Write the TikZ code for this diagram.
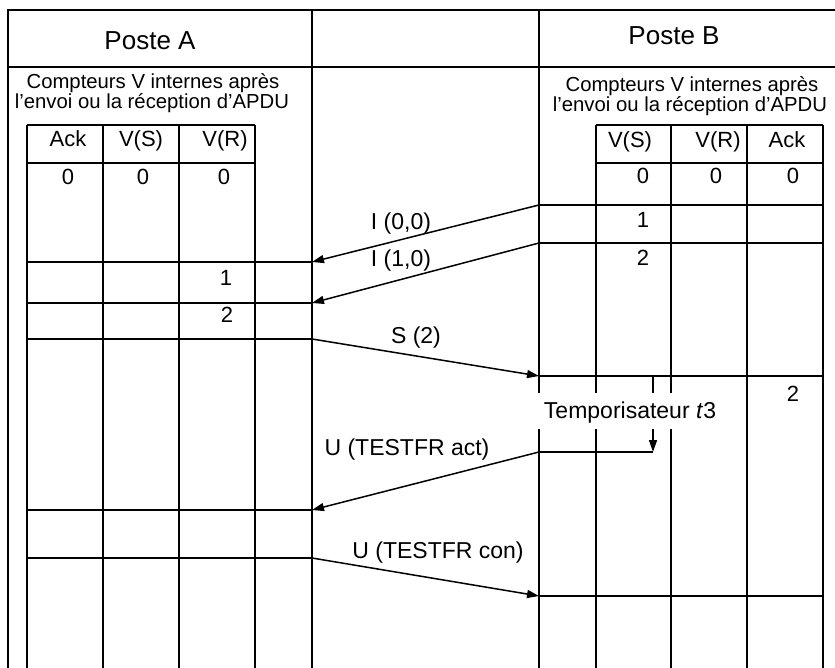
\documentclass[tikz,border=0pt]{standalone}
\usepackage{fontspec}
\setmainfont{Liberation Sans}
\usetikzlibrary{arrows.meta}
\begin{document}
\begin{tikzpicture}[x=1pt,y=-1pt,line width=1.5pt,
  poste/.style={inner sep=0pt,anchor=base,font=\fontsize{26}{28}\selectfont},
  note/.style={inner sep=0pt,anchor=base,font=\fontsize{20.3}{20}\selectfont},
  cell/.style={inner sep=0pt,anchor=base,font=\fontsize{22}{24}\selectfont},
  msg/.style={inner sep=0pt,anchor=base,font=\fontsize{23}{25}\selectfont},
  arr/.style={-{Triangle[length=12pt,width=8pt]}}]
\useasboundingbox (0,0) rectangle (835,668);
% frame
\draw (8,668) -- (8,10) -- (835,10);
\draw (8,67) -- (835,67);
\draw (312,10) -- (312,668);
\draw (539,10) -- (539,393);
\draw (539,429) -- (539,668);
% table A
\draw (27,125) -- (255,125);
\draw (27,163) -- (255,163);
\foreach \x in {27,103,179,255} \draw (\x,125) -- (\x,668);
\foreach \y in {262,303,339,510,558} \draw (27,\y) -- (312,\y);
% table B
\draw (596,125) -- (823,125);
\draw (596,163) -- (823,163);
\foreach \x in {596,671} {\draw (\x,125) -- (\x,393); \draw (\x,429) -- (\x,668);}
\foreach \x in {747,823} \draw (\x,125) -- (\x,668);
\foreach \y in {205,243,376,596} \draw (539,\y) -- (823,\y);
% texts
\node[poste] (pa) at (150,50) {Poste A};
\node[poste] (pb) at (674,45) {Poste B};
\node[note] (na1) at (153,89) {Compteurs V internes après};
\node[note] (na2) at (152,109) {l’envoi ou la réception d’APDU};
\node[note] (nb1) at (692,92) {Compteurs V internes après};
\node[note] (nb2) at (690,112) {l’envoi ou la réception d’APDU};
\node[cell] (ha1) at (68,147) {Ack};
\node[cell] (ha2) at (141,147) {V(S)};
\node[cell] (ha3) at (225,147) {V(R)};
\node[cell] (hb1) at (630,148) {V(S)};
\node[cell] (hb2) at (718,148) {V(R)};
\node[cell] (hb3) at (787,148) {Ack};
\node[cell] (a01) at (68,185) {0};
\node[cell] (a02) at (143,185) {0};
\node[cell] (a03) at (224,185) {0};
\node[cell] (a1) at (226,286) {1};
\node[cell] (a2) at (227,323) {2};
\node[cell] (b01) at (643,184) {0};
\node[cell] (b02) at (716,184) {0};
\node[cell] (b03) at (793,184) {0};
\node[cell] (b1) at (643,228) {1};
\node[cell] (b2) at (643,266) {2};
\node[cell] (b3) at (793,401) {2};
% timer
\node[msg] (tm) at (630,418) {Temporisateur \textit{t}3};
\coordinate (t0) at (653,376);
\coordinate (t1) at (653,393);
\coordinate (t2) at (653,429);
\coordinate (t3) at (653,452);
\draw (t0) -- (t1);
\draw[arr] (t2) -- (t3);
% messages
\coordinate (s1) at (539,205); \coordinate (e1) at (312,262);
\coordinate (s2) at (539,243); \coordinate (e2) at (312,303);
\coordinate (s3) at (312,339); \coordinate (e3) at (539,376);
\coordinate (s4) at (539,452); \coordinate (e4) at (312,510);
\coordinate (s5) at (312,558); \coordinate (e5) at (539,596);
\draw[arr] (s1) -- (e1);
\draw[arr] (s2) -- (e2);
\draw[arr] (s3) -- (e3);
\draw (t3) -- (s4);
\draw[arr] (s4) -- (e4);
\draw[arr] (s5) -- (e5);
\node[msg] (m1) at (401,230) {I (0,0)};
\node[msg] (m2) at (401,267) {I (1,0)};
\node[msg] (m3) at (416,343) {S (2)};
\node[msg] (m4) at (407,455) {U (TESTFR act)};
\node[msg] (m5) at (438,558) {U (TESTFR con)};
\end{tikzpicture}
\end{document}
